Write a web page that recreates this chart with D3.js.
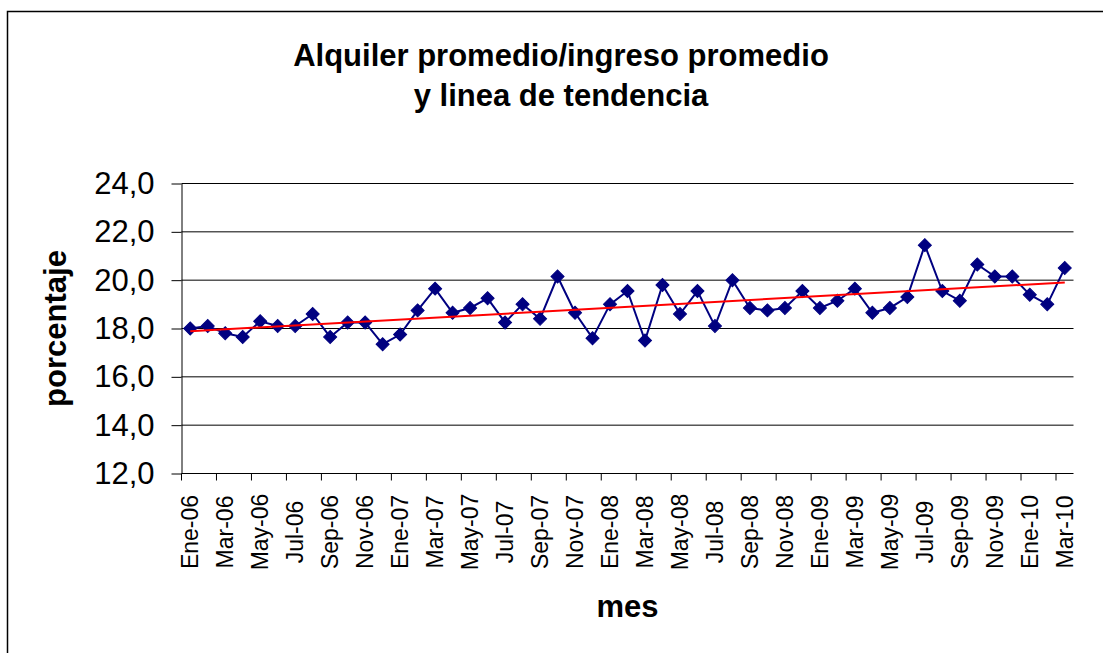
<!DOCTYPE html>
<html>
<head>
<meta charset="utf-8">
<script src="https://cdn.jsdelivr.net/npm/d3@7"></script>
<style>
  body { margin: 0; background: #fff; }
  svg { display: block; font-family: "Liberation Sans", Arial, sans-serif; }
</style>
</head>
<body>
<svg id="chart" width="1103" height="653"></svg>
<script>
// months, Ene-06 .. Mar-10
var months = [
  "Ene-06", "Feb-06", "Mar-06", "Abr-06", "May-06", "Jun-06", "Jul-06", "Ago-06", "Sep-06", "Oct-06", "Nov-06", "Dic-06",
  "Ene-07", "Feb-07", "Mar-07", "Abr-07", "May-07", "Jun-07", "Jul-07", "Ago-07", "Sep-07", "Oct-07", "Nov-07", "Dic-07",
  "Ene-08", "Feb-08", "Mar-08", "Abr-08", "May-08", "Jun-08", "Jul-08", "Ago-08", "Sep-08", "Oct-08", "Nov-08", "Dic-08",
  "Ene-09", "Feb-09", "Mar-09", "Abr-09", "May-09", "Jun-09", "Jul-09", "Ago-09", "Sep-09", "Oct-09", "Nov-09", "Dic-09",
  "Ene-10", "Feb-10", "Mar-10"
];

// alquiler promedio / ingreso promedio (%)
var ratio = [
  18.0, 18.1, 17.8, 17.65, 18.3, 18.1, 18.1, 18.6, 17.65, 18.25, 18.25, 17.35,
  17.75, 18.75, 19.65, 18.65, 18.85, 19.25, 18.25, 19.0, 18.4, 20.15, 18.65, 17.6,
  19.0, 19.55, 17.5, 19.8, 18.6, 19.55, 18.1, 20.0, 18.85, 18.75, 18.85, 19.55,
  18.85, 19.15, 19.65, 18.65, 18.85, 19.3, 21.45, 19.55, 19.15, 20.65, 20.15, 20.15,
  19.4, 19.0, 20.5
];

var yTicks = [12, 14, 16, 18, 20, 22, 24];

var svg = d3.select("#chart");

// plot area
var plotLeft = 181.5, plotRight = 1073.5, plotTop = 183.5, plotBottom = 473.5;

var x = d3.scaleBand()
  .domain(months)
  .range([plotLeft, plotRight])
  .padding(0);

var y = d3.scaleLinear()
  .domain([12, 24])
  .range([plotBottom, plotTop]);

var cx = function (d) { return x(d) + x.bandwidth() / 2; };

// outer frame
svg.append("rect")
  .attr("x", 7.5).attr("y", 11.5)
  .attr("width", 1120).attr("height", 700)
  .attr("fill", "#fff")
  .attr("stroke", "#000")
  .attr("stroke-width", 1.5);

// title
var title = svg.append("text")
  .attr("text-anchor", "middle")
  .attr("font-size", 31)
  .attr("font-weight", "bold");
title.append("tspan").attr("x", 561).attr("y", 66).text("Alquiler promedio/ingreso promedio");
title.append("tspan").attr("x", 561).attr("y", 106).text("y linea de tendencia");

// gridlines
svg.append("g")
  .selectAll("line")
  .data(yTicks.slice(1))
  .enter().append("line")
  .attr("x1", plotLeft).attr("x2", plotRight)
  .attr("y1", function (d) { return y(d); })
  .attr("y2", function (d) { return y(d); })
  .attr("stroke", "#000")
  .attr("stroke-width", 1);

// y axis
var yAxis = svg.append("g")
  .attr("transform", "translate(" + plotLeft + ",0)")
  .call(d3.axisLeft(y)
    .tickValues(yTicks)
    .tickSize(10)
    .tickSizeOuter(0)
    .tickPadding(17)
    .tickFormat(function (d) { return d3.format(".1f")(d).replace(".", ","); }));
yAxis.select(".domain").attr("stroke", "#000");
yAxis.selectAll(".tick line").attr("stroke", "#000");
yAxis.selectAll("text")
  .attr("font-size", 31)
  .attr("font-family", "Liberation Sans, Arial, sans-serif")
  .attr("fill", "#000");

// x axis line + ticks every 2 months
svg.append("line")
  .attr("x1", plotLeft).attr("x2", plotRight)
  .attr("y1", plotBottom).attr("y2", plotBottom)
  .attr("stroke", "#000");

var tickMonths = months.filter(function (d, i) { return i % 2 === 0; });

svg.append("g")
  .selectAll("line")
  .data(tickMonths)
  .enter().append("line")
  .attr("x1", function (d) { return x(d); })
  .attr("x2", function (d) { return x(d); })
  .attr("y1", plotBottom).attr("y2", plotBottom + 7)
  .attr("stroke", "#000");

svg.append("g")
  .selectAll("text")
  .data(tickMonths)
  .enter().append("text")
  .attr("transform", function (d) { return "translate(" + cx(d) + ",532) rotate(-90)"; })
  .attr("text-anchor", "middle")
  .attr("dy", "0.35em")
  .attr("font-size", 23)
  .text(function (d) { return d; });

// axis titles
svg.append("text")
  .attr("transform", "translate(66," + ((plotTop + plotBottom) / 2) + ") rotate(-90)")
  .attr("text-anchor", "middle")
  .attr("font-size", 31)
  .attr("font-weight", "bold")
  .text("porcentaje");

svg.append("text")
  .attr("x", (plotLeft + plotRight) / 2)
  .attr("y", 617)
  .attr("text-anchor", "middle")
  .attr("font-size", 31)
  .attr("font-weight", "bold")
  .text("mes");

// data line
var line = d3.line()
  .x(function (d, i) { return cx(months[i]); })
  .y(function (d) { return y(d); });

svg.append("path")
  .datum(ratio)
  .attr("d", line)
  .attr("fill", "none")
  .attr("stroke", "#000080")
  .attr("stroke-width", 2);

svg.append("g")
  .selectAll("path")
  .data(ratio)
  .enter().append("path")
  .attr("d", d3.symbol().type(d3.symbolSquare).size(85))
  .attr("transform", function (d, i) { return "translate(" + cx(months[i]) + "," + y(d) + ") rotate(45)"; })
  .attr("fill", "#000080")
  .attr("stroke", "#000080")
  .attr("stroke-width", 1);

// linear trend (least squares over month index)
var n = ratio.length,
  mx = d3.mean(ratio, function (d, i) { return i; }),
  my = d3.mean(ratio),
  sxy = d3.sum(ratio, function (d, i) { return (i - mx) * (d - my); }),
  sxx = d3.sum(ratio, function (d, i) { return (i - mx) * (i - mx); }),
  slope = sxy / sxx,
  icpt = my - slope * mx;

svg.append("line")
  .attr("x1", cx(months[0]))
  .attr("y1", y(icpt))
  .attr("x2", cx(months[n - 1]))
  .attr("y2", y(icpt + slope * (n - 1)))
  .attr("stroke", "#ff0000")
  .attr("stroke-width", 2);
</script>
</body>
</html>
